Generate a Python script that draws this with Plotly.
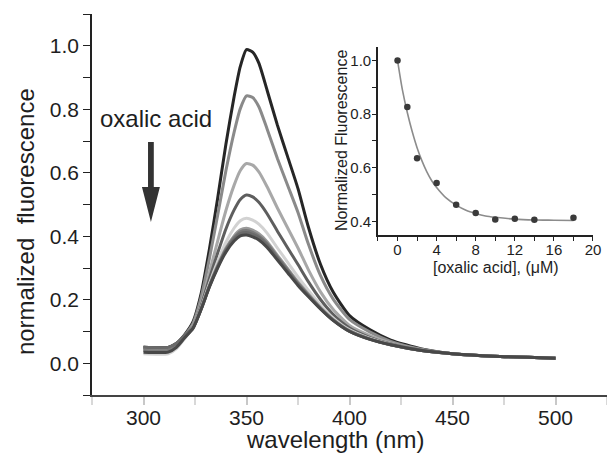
import plotly.graph_objects as go

# ---------------- data ----------------
wavelength = [300, 312, 316, 320, 324, 328, 332, 336, 340, 344, 347, 350, 353, 356,
              360, 365, 370, 375, 380, 386, 392, 400, 410, 420, 435, 450, 470, 500]

spec_0 = [0.050, 0.050, 0.062, 0.090, 0.130, 0.220, 0.360, 0.520, 0.690, 0.840, 0.935, 0.988, 0.980, 0.945,
          0.860, 0.750, 0.650, 0.550, 0.430, 0.310, 0.225, 0.150, 0.105, 0.073, 0.045, 0.030, 0.022, 0.016]
spec_1 = [0.045, 0.045, 0.060, 0.088, 0.125, 0.208, 0.330, 0.466, 0.606, 0.728, 0.802, 0.842, 0.837, 0.808,
          0.738, 0.645, 0.560, 0.475, 0.376, 0.275, 0.203, 0.138, 0.098, 0.069, 0.044, 0.030, 0.022, 0.016]
spec_2 = [0.040, 0.040, 0.056, 0.086, 0.118, 0.189, 0.286, 0.385, 0.481, 0.561, 0.607, 0.629, 0.624, 0.603,
          0.556, 0.489, 0.426, 0.363, 0.295, 0.224, 0.170, 0.119, 0.087, 0.064, 0.042, 0.030, 0.022, 0.016]
spec_3 = [0.050, 0.050, 0.063, 0.088, 0.114, 0.181, 0.266, 0.347, 0.423, 0.483, 0.516, 0.530, 0.524, 0.507,
          0.471, 0.416, 0.363, 0.311, 0.257, 0.200, 0.154, 0.111, 0.081, 0.061, 0.041, 0.030, 0.022, 0.016]
spec_4 = [0.030, 0.030, 0.046, 0.078, 0.112, 0.175, 0.251, 0.320, 0.381, 0.426, 0.449, 0.457, 0.451, 0.438,
          0.410, 0.363, 0.318, 0.272, 0.230, 0.183, 0.143, 0.105, 0.078, 0.059, 0.040, 0.030, 0.022, 0.016]
spec_5 = [0.045, 0.045, 0.058, 0.084, 0.111, 0.172, 0.244, 0.308, 0.362, 0.401, 0.420, 0.425, 0.419, 0.408,
          0.383, 0.340, 0.298, 0.256, 0.218, 0.175, 0.138, 0.102, 0.076, 0.058, 0.040, 0.030, 0.022, 0.016]
spec_6 = [0.040, 0.040, 0.055, 0.082, 0.110, 0.171, 0.243, 0.305, 0.358, 0.396, 0.414, 0.418, 0.412, 0.401,
          0.377, 0.335, 0.294, 0.252, 0.215, 0.173, 0.137, 0.101, 0.076, 0.058, 0.040, 0.030, 0.022, 0.016]
spec_7 = [0.050, 0.050, 0.062, 0.086, 0.110, 0.171, 0.242, 0.303, 0.355, 0.391, 0.408, 0.412, 0.406, 0.396,
          0.372, 0.331, 0.290, 0.249, 0.213, 0.172, 0.136, 0.101, 0.075, 0.058, 0.040, 0.030, 0.022, 0.016]
spec_8 = [0.035, 0.035, 0.050, 0.080, 0.110, 0.170, 0.240, 0.300, 0.350, 0.385, 0.401, 0.404, 0.398, 0.388,
          0.365, 0.325, 0.285, 0.245, 0.210, 0.170, 0.135, 0.100, 0.075, 0.058, 0.040, 0.030, 0.022, 0.016]

spectra = [spec_0, spec_1, spec_2, spec_3, spec_4, spec_5, spec_6, spec_7, spec_8]
spec_colors = ["#262626", "#8a8a8a", "#a8a8a8", "#5e5e5e", "#d2d2d2",
               "#9a9a9a", "#7a7a7a", "#6a6a6a", "#484848"]

conc = [0, 1, 2, 4, 6, 8, 10, 12, 14, 18]
norm_fl = [1.0, 0.827, 0.636, 0.544, 0.463, 0.432, 0.408, 0.410, 0.407, 0.414]

fit_x = [0, 0.5, 1, 1.5, 2, 2.5, 3, 3.5, 4, 5, 6, 7, 8, 9, 10, 12, 14, 16, 18]
fit_y = [1.0, 0.89, 0.806, 0.735, 0.675, 0.626, 0.585, 0.552, 0.527, 0.487, 0.461, 0.442,
         0.430, 0.421, 0.416, 0.409, 0.406, 0.405, 0.404]

x_ticks = [300, 350, 400, 450, 500]
y_ticks = [0.0, 0.2, 0.4, 0.6, 0.8, 1.0]
inset_x_ticks = [0, 4, 8, 12, 16, 20]
inset_y_ticks = [0.4, 0.6, 0.8, 1.0]

# ---------------- figure ----------------
FONT = "Arial, Liberation Sans, sans-serif"
INK = "#1e1e1e"

fig = go.Figure()

for vals, col in zip(spectra, spec_colors):
    fig.add_trace(go.Scatter(x=wavelength, y=vals, mode="lines",
                             line=dict(color=col, width=3, shape="spline", smoothing=0.6),
                             xaxis="x", yaxis="y", showlegend=False, hoverinfo="skip"))

fig.add_trace(go.Scatter(x=fit_x, y=fit_y, mode="lines",
                         line=dict(color="#8c8c8c", width=1.6, shape="spline", smoothing=0.8),
                         xaxis="x2", yaxis="y2", showlegend=False))
fig.add_trace(go.Scatter(x=conc, y=norm_fl, mode="markers",
                         marker=dict(color="#3a3a3a", size=6.5),
                         xaxis="x2", yaxis="y2", showlegend=False))

fig.update_layout(
    width=607, height=454,
    margin=dict(l=92, r=0, t=14, b=59),
    paper_bgcolor="white", plot_bgcolor="rgba(0,0,0,0)",
    font=dict(family=FONT, color=INK),
    xaxis=dict(domain=[0, 1], range=[275, 525], tickvals=x_ticks, automargin=False,
               ticks="outside", ticklen=8, tickwidth=2, tickcolor="#c8c8c8", ticklabelstandoff=-5,
               minor=dict(dtick=25, tick0=0, ticks="outside", ticklen=8, tickwidth=2, tickcolor="#d8d8d8"),
               showline=True, linecolor="#444", linewidth=1.5, showgrid=False, zeroline=False,
               tickfont=dict(size=21, color=INK)),
    yaxis=dict(domain=[0, 1], range=[-0.1, 1.1], tickvals=y_ticks, tickformat=".1f", automargin=False,
               ticks="outside", ticklen=7, tickwidth=1.2, tickcolor="#222",
               minor=dict(dtick=0.1, tick0=-0.1, ticks="outside", ticklen=7, tickwidth=1.2, tickcolor="#222"),
               showline=True, linecolor="#222", linewidth=1.5, showgrid=False, zeroline=False,
               tickfont=dict(size=21, color=INK)),
    xaxis2=dict(domain=[0.5553, 0.9728], range=[-2, 20], anchor="y2", tickvals=inset_x_ticks,
                automargin=False, ticklabelstandoff=-4,
                ticks="outside", ticklen=4, tickwidth=1.2, tickcolor="#222",
                minor=dict(dtick=2, tick0=0, ticks="outside", ticklen=4, tickwidth=1.2, tickcolor="#222"),
                showline=True, linecolor="#222", linewidth=1.5, showgrid=False, zeroline=False,
                tickfont=dict(size=15, color=INK)),
    yaxis2=dict(domain=[0.42, 0.9134], range=[0.35, 1.05], anchor="x2", tickvals=inset_y_ticks,
                tickformat=".1f", automargin=False, ticklabelstandoff=-2,
                ticks="outside", ticklen=4, tickwidth=1.2, tickcolor="#222",
                minor=dict(dtick=0.1, tick0=0, ticks="outside", ticklen=4, tickwidth=1.2, tickcolor="#222"),
                showline=True, linecolor="#222", linewidth=1.5, showgrid=False, zeroline=False,
                tickfont=dict(size=15, color=INK)),
)

# axis titles as text annotations
fig.add_annotation(text="normalized  fluorescence", xref="paper", yref="paper", x=-0.130, y=0.454,
                   xanchor="center", yanchor="middle", textangle=-90, showarrow=False,
                   font=dict(size=24, color=INK, family=FONT))
fig.add_annotation(text="wavelength (nm)", xref="paper", yref="paper", x=0.4728, y=-0.1155,
                   xanchor="center", yanchor="middle", showarrow=False,
                   font=dict(size=24, color=INK, family=FONT))
fig.add_annotation(text="Normalized Fluorescence", xref="paper", yref="paper", x=0.4835, y=0.669,
                   xanchor="center", yanchor="middle", textangle=-90, showarrow=False,
                   font=dict(size=16, color=INK, family=FONT))
fig.add_annotation(text="[oxalic acid], (μM)", xref="paper", yref="paper", x=0.784, y=0.334,
                   xanchor="center", yanchor="middle", showarrow=False,
                   font=dict(size=16, color=INK, family=FONT))

# "oxalic acid" label and downward arrow
fig.add_annotation(text="oxalic acid", xref="paper", yref="paper", x=0.0117, y=0.727,
                   xanchor="left", yanchor="middle", showarrow=False,
                   font=dict(size=24, color=INK, family=FONT))
fig.add_shape(type="path", xref="x", yref="y",
              path="M 302.2,0.697 L 305.0,0.697 L 305.0,0.555 L 307.95,0.555 L 303.6,0.445 "
                   "L 299.25,0.555 L 302.2,0.555 Z",
              fillcolor="#333333", line=dict(width=0))

fig.write_html("out.html", config={"displayModeBar": False},
               post_script="document.body.style.margin='0';document.body.style.padding='0';")
